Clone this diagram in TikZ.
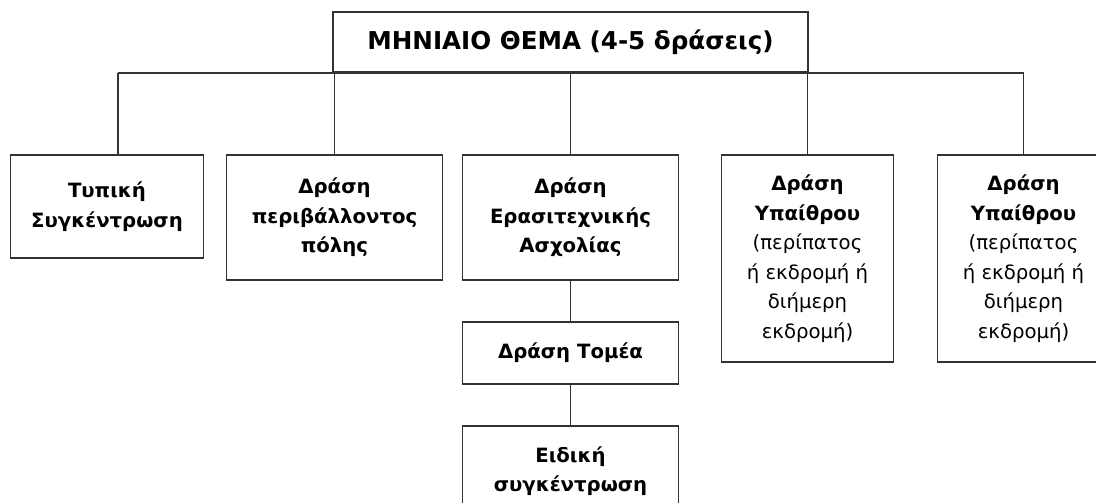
\documentclass[tikz,border=0pt]{standalone}
\usepackage{fontspec}
\setmainfont{DejaVu Sans}
\usetikzlibrary{positioning}

\begin{document}
\begin{tikzpicture}[on grid,
    box/.style={draw=black!80,line width=1.1pt,align=center,inner sep=0pt,
        font=\bfseries\fontsize{14}{21}\selectfont},
    link/.style={draw=black!80,line width=1.1pt}]
    \useasboundingbox (0,0) rectangle (27.4,-12.55);
    \node[box,minimum width=11.875cm,minimum height=1.5cm,
        font=\bfseries\fontsize{17.5}{20}\selectfont](thema) at (14.2625,-1.05)
        {ΜΗΝΙΑΙΟ ΘΕΜΑ (4-5 δράσεις)};
    \node[box,minimum width=5.4cm,minimum height=3.125cm](erasitexn)[below=4.3875cm of thema]
        {Δράση\\Ερασιτεχνικής\\Ασχολίας};
    \node[box,minimum width=5.4cm,minimum height=3.125cm](perivallon)[left=5.9cm of erasitexn]
        {Δράση\\περιβάλλοντος\\πόλης};
    \node[box,minimum width=4.825cm,minimum height=2.575cm](typiki)[above left=0.275cm and 5.6875cm of perivallon]
        {Τυπική\\Συγκέντρωση};
    \node[box,minimum width=4.3cm,minimum height=5.175cm](ypaithrou_1)[below right=1.025cm and 5.925cm of erasitexn]
        {Δράση\\Υπαίθρου\\\mdseries(περίπατος\\\mdseries ή εκδρομή ή\\\mdseries διήμερη\\\mdseries εκδρομή)};
    \node[box,minimum width=4.3cm,minimum height=5.175cm](ypaithrou_2)[right=5.4cm of ypaithrou_1]
        {Δράση\\Υπαίθρου\\\mdseries(περίπατος\\\mdseries ή εκδρομή ή\\\mdseries διήμερη\\\mdseries εκδρομή)};
    \node[box,minimum width=5.4cm,minimum height=1.55cm](tomeas)[below=3.3875cm of erasitexn]
        {Δράση Τομέα};
    \node[box,minimum width=5.4cm,minimum height=2.25cm](eidiki)[below=2.95cm of tomeas]
        {Ειδική\\συγκέντρωση};
    \path (thema.south) ++(-11.3125,0) coordinate (bar_l);
    \draw[link] (bar_l) -- (ypaithrou_2.north |- thema.south);
    \draw[link] (bar_l) -- (bar_l |- typiki.north);
    \draw[link] (perivallon.north) -- (perivallon.north |- thema.south);
    \draw[link] (erasitexn.north) -- (erasitexn.north |- thema.south);
    \draw[link] (ypaithrou_1.north) -- (ypaithrou_1.north |- thema.south);
    \draw[link] (ypaithrou_2.north) -- (ypaithrou_2.north |- thema.south);
    \path[link]
    (erasitexn) edge (tomeas)
    (tomeas) edge (eidiki);
\end{tikzpicture}
\end{document}
